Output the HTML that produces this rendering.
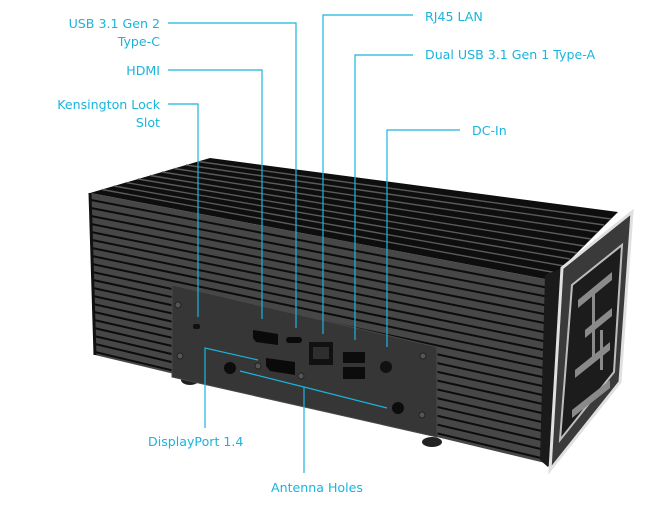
<!DOCTYPE html>
<html><head><meta charset="utf-8"><style>
html,body{margin:0;padding:0;background:#fff;}
svg{display:block;}
text{font-family:"DejaVu Sans","Liberation Sans",sans-serif;font-size:12.6px;fill:#1ab4dc;}
</style></head><body>
<svg width="651" height="507" viewBox="0 0 651 507" xmlns="http://www.w3.org/2000/svg">
<!-- top surface -->
<polygon points="90,193 210,158 618,212 550,280" fill="#0e0e0e"/>
<g stroke="#5a5a5a" stroke-width="1.4">
<line x1="102" y1="189.5" x2="557" y2="273"/>
<line x1="114" y1="186" x2="564" y2="266"/>
<line x1="126" y1="182.5" x2="570" y2="259"/>
<line x1="138" y1="179" x2="577" y2="253"/>
<line x1="150" y1="175.5" x2="584" y2="246"/>
<line x1="162" y1="172" x2="591" y2="239"/>
<line x1="174" y1="168.5" x2="598" y2="232"/>
<line x1="186" y1="165" x2="604" y2="225"/>
<line x1="198" y1="161.5" x2="611" y2="219"/>
</g>
<!-- front face -->
<polygon points="90,193 550,280 545,463 95,355" fill="#474747"/>
<g stroke="#0c0c0c" stroke-width="2">
<line x1="91" y1="200" x2="549" y2="288"/>
<line x1="91" y1="208" x2="549" y2="297"/>
<line x1="91" y1="216" x2="549" y2="306"/>
<line x1="91" y1="224" x2="549" y2="315"/>
<line x1="91" y1="232" x2="549" y2="324"/>
<line x1="92" y1="240" x2="548" y2="333"/>
<line x1="92" y1="248" x2="548" y2="342"/>
<line x1="92" y1="256" x2="548" y2="351"/>
<line x1="92" y1="264" x2="548" y2="360"/>
<line x1="92" y1="272" x2="548" y2="369"/>
<line x1="93" y1="280" x2="547" y2="378"/>
<line x1="93" y1="288" x2="547" y2="387"/>
<line x1="93" y1="296" x2="547" y2="396"/>
<line x1="93" y1="304" x2="547" y2="405"/>
<line x1="94" y1="312" x2="546" y2="414"/>
<line x1="94" y1="320" x2="546" y2="423"/>
<line x1="94" y1="328" x2="546" y2="432"/>
<line x1="94" y1="336" x2="546" y2="441"/>
<line x1="95" y1="344" x2="545" y2="450"/>
<line x1="95" y1="352" x2="545" y2="459"/>
</g>
<line x1="90" y1="193" x2="95" y2="355" stroke="#111" stroke-width="3"/>
<!-- end plate -->
<polygon points="545,275 562,268 632,212 618,382 548,467 540,460" fill="#1a1a1a"/>
<polygon points="562,268 632,212 620,382 550,470" fill="#3a3a3a" stroke="#e0e0e0" stroke-width="3"/>
<polygon points="572,285 622,245 614,372 560,440" fill="#1c1c1c" stroke="#bdbdbd" stroke-width="2"/>
<g fill="#8a8a8a">
<polygon points="578,300 612,272 612,280 578,308"/>
<polygon points="585,330 612,308 612,316 585,338"/>
<polygon points="575,370 610,342 610,350 575,378"/>
<polygon points="572,410 610,380 610,388 572,418"/>
<rect x="592" y="290" width="3" height="70"/>
<rect x="600" y="330" width="3" height="40"/>
</g>
<!-- feet -->
<ellipse cx="190" cy="380" rx="9" ry="5" fill="#222"/>
<ellipse cx="432" cy="442" rx="10" ry="5" fill="#222"/>
<!-- IO plate -->
<polygon points="172,285 437,347 437,437 172,377" fill="#363636" stroke="#484848" stroke-width="1"/>
<g fill="#555" stroke="#222" stroke-width="1">
<circle cx="178" cy="305" r="3"/><circle cx="180" cy="356" r="3"/>
<circle cx="258" cy="366" r="3"/><circle cx="301" cy="376" r="3"/>
<circle cx="423" cy="356" r="3"/><circle cx="422" cy="415" r="3"/>
</g>
<rect x="193" y="324" width="7" height="5" rx="2" fill="#111"/>
<polygon points="253,330 278,334 278,345 256,342 253,338" fill="#0a0a0a"/>
<rect x="286" y="337" width="16" height="6" rx="3" fill="#0a0a0a"/>
<rect x="309" y="342" width="24" height="23" fill="#111"/>
<rect x="313" y="347" width="16" height="12" fill="#2e2e2e"/>
<rect x="343" y="352" width="22" height="11" fill="#0c0c0c"/>
<rect x="343" y="367" width="22" height="12" fill="#0c0c0c"/>
<circle cx="386" cy="367" r="6" fill="#111"/>
<polygon points="266,358 295,362 295,375 270,371 266,366" fill="#0a0a0a"/>
<circle cx="230" cy="368" r="6" fill="#0c0c0c"/>
<circle cx="398" cy="408" r="6" fill="#0c0c0c"/>
<!-- callouts -->
<g stroke="#1ab4dc" stroke-width="1.2" fill="none">
<polyline points="168,23 296,23 296,328"/>
<polyline points="168,70 262,70 262,319"/>
<polyline points="168,104 198,104 198,317"/>
<polyline points="413,15 323,15 323,334"/>
<polyline points="413,55 355,55 355,340"/>
<polyline points="460,130 387,130 387,347"/>
<polyline points="205,428 205,348 258,360"/>
<polyline points="240,371 304,387 387,408"/>
<line x1="304" y1="387" x2="304" y2="473"/>
</g>
<text x="160" y="28" text-anchor="end">USB 3.1 Gen 2</text>
<text x="160" y="46" text-anchor="end">Type-C</text>
<text x="160" y="75" text-anchor="end">HDMI</text>
<text x="160" y="109" text-anchor="end">Kensington Lock</text>
<text x="160" y="127" text-anchor="end">Slot</text>
<text x="425" y="21">RJ45 LAN</text>
<text x="425" y="59">Dual USB 3.1 Gen 1 Type-A</text>
<text x="472" y="135">DC-In</text>
<text x="148" y="446">DisplayPort 1.4</text>
<text x="271" y="492">Antenna Holes</text>
</svg>
</body></html>
